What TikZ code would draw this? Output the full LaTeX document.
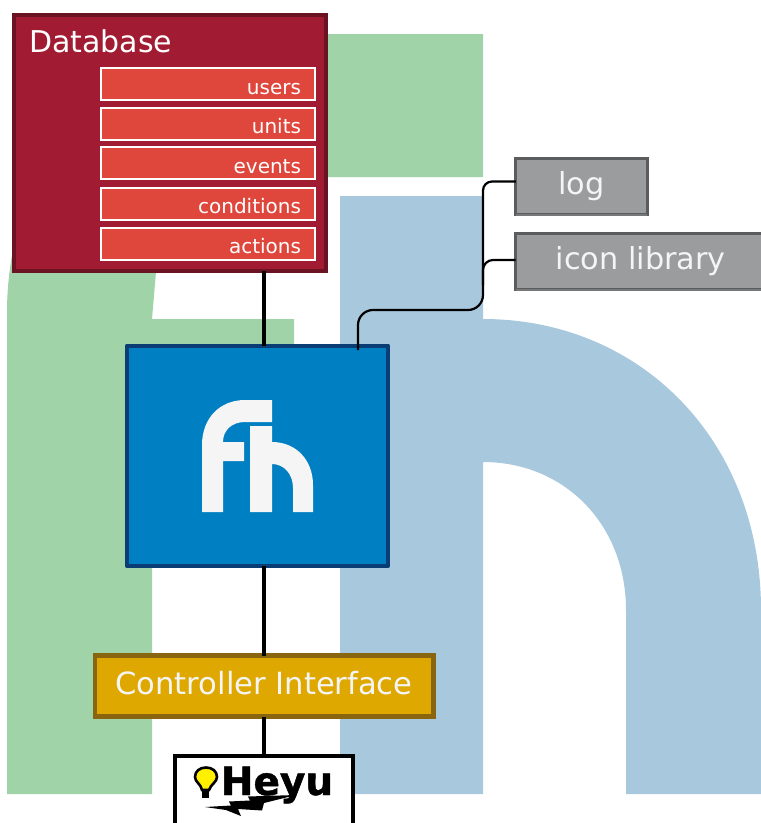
\documentclass[tikz,border=0pt]{standalone}
\usepackage{fontspec}
\setmainfont{DejaVu Sans}
\newfontfamily\heyufont[BoldFont=DejaVu Sans Bold,BoldFeatures={FakeBold=1.2}]{DejaVu Sans}
\definecolor{bggreen}{HTML}{A1D3A8}
\definecolor{bgblue}{HTML}{A8C8DD}
\definecolor{dbfill}{HTML}{A11C33}
\definecolor{dbline}{HTML}{6B1223}
\definecolor{rowfill}{HTML}{DF473C}
\definecolor{fhfill}{HTML}{0080C3}
\definecolor{fhline}{HTML}{0A3D74}
\definecolor{goldfill}{HTML}{DEA800}
\definecolor{goldline}{HTML}{8A6510}
\definecolor{greyfill}{HTML}{9B9C9E}
\definecolor{greyline}{HTML}{5B5C5E}
\definecolor{greyedge}{HTML}{77787A}
\definecolor{logowhite}{HTML}{F5F5F5}
\definecolor{bulb}{HTML}{FFF000}
\tikzset{
  boxbase/.style={draw,rectangle,inner sep=0pt,outer sep=0pt,anchor=center},
  dbbox/.style={boxbase,draw=dbline,fill=dbfill,line width=4.2pt,minimum width=311.7pt,minimum height=256.3pt},
  rowbox/.style={boxbase,draw=white,fill=rowfill,line width=2pt,minimum width=214pt,minimum height=32pt,
     text width=185pt,align=right,text=white,text height=20pt,text depth=0pt,font=\fontsize{20}{20}\selectfont},
  fhbox/.style={boxbase,draw=fhline,fill=fhfill,line width=4.4pt,line join=round,minimum width=260.6pt,minimum height=220.4pt},
  goldbox/.style={boxbase,draw=goldline,fill=goldfill,line width=4.5pt,minimum width=338.5pt,minimum height=61pt,
     text=logowhite,font=\fontsize{30.6}{31}\selectfont},
  greybox/.style={boxbase,draw=greyline,fill=greyfill,line width=3.4pt,minimum height=55.6pt,
     text=logowhite,font=\fontsize{30.3}{31}\selectfont},
  heyubox/.style={boxbase,draw=black,fill=white,line width=3.6pt,minimum width=178pt,minimum height=100pt},
  conn/.style={draw=black,line width=3.6pt},
  thinconn/.style={draw=black,line width=2.2pt},
  edgeband/.style={draw=greyedge,line width=1.8pt}
}
\begin{document}
\begin{tikzpicture}[x=1pt,y=-1pt]
\clip (0,0) rectangle (761,823);
\fill[white] (0,0) rectangle (761,823);
% background f
\fill[bggreen] (7,794) -- (7,315) .. controls (7,295) and (8,280) .. (12,255)
  -- (120,120) -- (250,34) -- (483,34) -- (483,177) -- (300,177) -- (200,215)
  .. controls (175,235) and (160,250) .. (156,272) -- (152,319) -- (294,319) -- (294,462) -- (152,462) -- (152,794) -- cycle;
% background h
\fill[bgblue] (340,196) -- (483,196) -- (483,319)
  .. controls (640,319) and (761,440) .. (761,610) -- (761,794) -- (626,794) -- (626,610)
  .. controls (626,525) and (565,462) .. (483,462) -- (483,794) -- (340,794) -- cycle;
% nodes
\node[dbbox] (db) at (169.85,142.85) {};
\node[anchor=west,text=white,inner sep=0pt,font=\fontsize{30}{30}\selectfont] (dbtitle) at (29,41) {Database};
\node[rowbox,text width=187pt] (users) at (207.5,84) {users};
\node[rowbox,text width=187pt] (units) at (207.5,123.5) {units};
\node[rowbox,text width=187pt] (events) at (207.5,163) {events};
\node[rowbox,text width=187pt] (conditions) at (207.5,203.5) {conditions};
\node[rowbox,text width=187pt] (actions) at (207.5,243.5) {actions};
\node[fhbox] (fh) at (257.5,455.9) {};
\node[goldbox,text height=22pt,text depth=5pt] (ctrl) at (264,686) {Controller Interface};
\node[heyubox] (heyu) at (264,806) {};
\node[greybox,minimum width=131.5pt,text height=22pt,text depth=6pt] (log) at (581.5,186.5) {log};
\node[greybox,minimum width=250pt,text height=22pt,text depth=6pt] (icons) at (640.7,261.5) {icon library};
\draw[edgeband] ([yshift=-1pt]log.south west) -- ([yshift=-1pt]log.south east);
\draw[edgeband] ([yshift=-1pt]icons.south west) -- ([yshift=-1pt]icons.south east);
% connectors
\draw[conn] (db.south -| ctrl) -- (fh.north -| ctrl);
\draw[conn] (fh.south -| ctrl) -- (ctrl.north);
\draw[conn] (ctrl.south) -- (heyu.north -| ctrl);
\coordinate (fhtap) at (358,350);
\coordinate (logtap) at ([yshift=5pt]log.west);
\coordinate (icontap) at ([yshift=1.5pt]icons.west);
\coordinate (trunktop) at (483,230);
\draw[thinconn,rounded corners=15pt] (fhtap) -- (358,310) -- (483,310) -- (trunktop);
\draw[thinconn,rounded corners=9pt] (trunktop) -- (logtap -| trunktop) -- (logtap);
\draw[thinconn,rounded corners=10pt] (483,285) -- (icontap -| trunktop) -- (icontap);
% fh logo
\fill[logowhite] (202,512) -- (202,445) .. controls (202,418) and (220,400) .. (245,400) -- (272,400) -- (272,422) -- (245,422)
  .. controls (231,422) and (223,431) .. (223,442) -- (244,442) -- (244,461) -- (223,461) -- (223,512) -- cycle;
\fill[logowhite] (250,426) -- (272,426) -- (272,442) .. controls (296,442) and (313,460) .. (313,485) -- (313,512) -- (293,512) -- (293,488)
  .. controls (293,474) and (284,464) .. (272,464) -- (272,512) -- (250,512) -- cycle;
% Heyu logo
\node[inner sep=0pt,font=\fontsize{39}{39}\heyufont\bfseries,anchor=base] (heyutext) at (277,795) {Heyu};
\fill[black] (202,788) rectangle (209,798);
\fill[bulb,draw=black,line width=2.6pt] (202,790) .. controls (201,784) and (195,782) .. (195,777) .. controls (195,771) and (200,767.5) .. (206,767.5)
  .. controls (212,767.5) and (217,771) .. (217,777) .. controls (217,782) and (211,784) .. (209,790) -- cycle;
\fill[black] (205,807) -- (231,805.5) -- (229,801.5) -- (250,800.5) -- (248,796.5) -- (296,795) -- (264,803) -- (262,810.5) -- (238,809) -- (241,816) -- (226,810) -- cycle;
\end{tikzpicture}
\end{document}
